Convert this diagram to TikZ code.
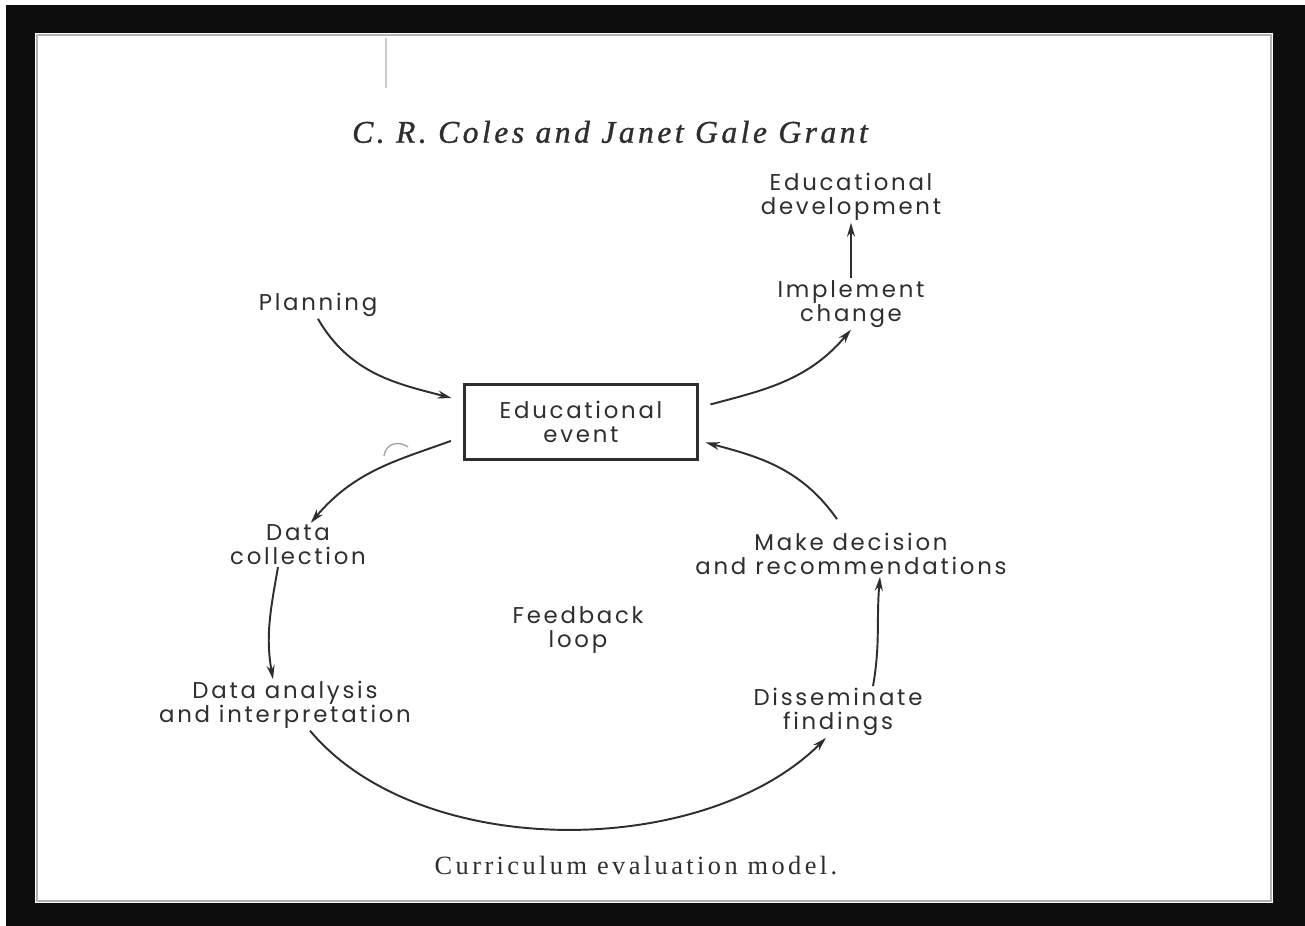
\documentclass[tikz,border=0pt]{standalone}
\usepackage{fontspec}
\setmainfont{Poppins}
\newfontfamily\serifbook{Liberation Serif}
\usetikzlibrary{positioning,arrows.meta}

\definecolor{ink}{HTML}{2E2E2E}

\begin{document}
\begin{tikzpicture}[x=0.02cm,y=-0.02cm,node distance=2.14cm,on grid,
    >={Stealth[length=0.28cm,width=0.16cm]},
    lbl/.style={align=center,inner sep=1pt,text=ink,
      font=\fontsize{13}{13.6}\selectfont\addfontfeatures{LetterSpace=12}},
    eventbox/.style={lbl,draw=ink,line width=1.6pt,minimum width=4.66cm,minimum height=1.5cm},
    link/.style={draw=ink,line width=1.1pt,->}]
  % frame
  \useasboundingbox (0,0) rectangle (1305,926);
  \fill[white] (0,0) rectangle (1305,926);
  \fill[black!95] (6,5) rectangle (1305,926);
  \fill[white] (35,33) rectangle (1273,903);
  \draw[gray!60,line width=1.5pt] (37,35) rectangle (1271,901);
  \draw[gray!40,line width=0.6pt] (386,38) -- (386,88);
  \draw[gray!70,line width=0.8pt] (384,456) .. controls (386,442) and (400,441) .. (408,447);

  \node[text=ink,font=\serifbook\itshape\fontsize{18}{20}\selectfont\addfontfeatures{LetterSpace=11,FakeBold=1}]
    (title) at (610,132) {C. R. Coles and Janet Gale Grant};

  \node[eventbox] (event) at (581,422) {Educational\\event};
  \node[lbl] (plan) at (318,305) {Planning};
  \node[lbl] (impl) at (851,304) {Implement\\change};
  \node[lbl,above=of impl] (dev) {Educational\\development};
  \node[lbl] (coll) at (298,545) {Data\\collection};
  \node[lbl] (anal) at (285,705) {Data analysis\\and interpretation};
  \node[lbl] (diss) at (838,712) {Disseminate\\findings};
  \node[lbl] (dec) at (851,554) {Make decision\\and recommendations};
  \node[lbl] (fb) at (578,630) {Feedback\\loop};

  \node[text=ink,font=\serifbook\fontsize{15}{17}\selectfont\addfontfeatures{LetterSpace=13}]
    (caption) at (636,866) {Curriculum evaluation model.};

  \path[every edge/.append style={link}]
    (plan.south) edge[out=-60,in=165,shorten >=0.24cm] (event.170)
    (event.7) edge[out=15,in=-130,shorten <=0.24cm] (impl.south)
    (impl.north) edge (dev.south)
    (event.187) edge[out=200,in=50,shorten <=0.26cm] (coll.60)
    ([shift={(-20,0)}]coll.south) edge[out=-100,in=100] ([shift={(-12,0)}]anal.north)
    ([shift={(25,0)}]anal.south) edge[out=-50,in=-135,looseness=0.85] ([shift={(-12,0)}]diss.south)
    ([shift={(35,0)}]diss.north) edge[out=80,in=-95] ([shift={(29,0)}]dec.south)
    ([shift={(-14,-12)}]dec.north) edge[out=125,in=-15,shorten >=0.14cm] (event.-9);
\end{tikzpicture}
\end{document}
